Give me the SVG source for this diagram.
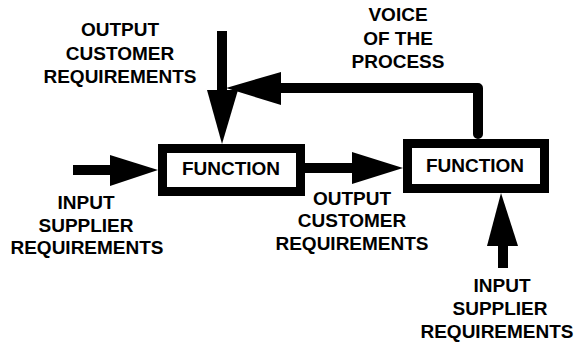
<svg xmlns="http://www.w3.org/2000/svg" width="583" height="345" viewBox="0 0 583 345">
  <style>
    .lbl { font-family: "Liberation Sans", Arial, sans-serif; font-weight: bold; font-size: 19px; fill: #000; text-anchor: middle; }
    .box { fill: #fff; stroke: #000; stroke-width: 9; }
    .shaft { fill: none; stroke: #000; stroke-width: 10; }
    .head { fill: #000; }
  </style>
  <rect width="583" height="345" fill="#fff"/>

  <g id="connectors">
    <!-- output requirements coming down into the first function -->
    <line class="shaft" x1="222" y1="31" x2="222" y2="95"/>
    <polygon class="head" points="207,90 238,90 222,144"/>
    <!-- voice of the process feedback loop -->
    <path class="shaft" d="M478,134 V88 H276" stroke-width="11" stroke-linecap="round" stroke-linejoin="round"/>
    <polygon class="head" points="281,72 281,105 226,88"/>
    <!-- input into the first function -->
    <line class="shaft" x1="73" y1="170" x2="113" y2="170"/>
    <polygon class="head" points="110,155 110,186 158,170"/>
    <!-- output of first function into second -->
    <line class="shaft" x1="305" y1="168" x2="356" y2="168"/>
    <polygon class="head" points="352,152 352,184 403,168"/>
    <!-- input rising into the second function -->
    <line class="shaft" x1="503" y1="268" x2="503" y2="240"/>
    <polygon class="head" points="487,246 518,246 501,193"/>
  </g>

  <g id="function-1">
    <rect class="box" x="162.5" y="148.5" width="138" height="43"/>
    <text class="lbl" x="231" y="175">FUNCTION</text>
  </g>

  <g id="function-2">
    <rect class="box" x="407.5" y="143.5" width="137" height="45"/>
    <text class="lbl" x="475" y="172">FUNCTION</text>
  </g>

  <g id="label-output-top">
    <text class="lbl" x="120" y="36">OUTPUT</text>
    <text class="lbl" x="120" y="60">CUSTOMER</text>
    <text class="lbl" x="120" y="83">REQUIREMENTS</text>
  </g>

  <g id="label-voice">
    <text class="lbl" x="398" y="21">VOICE</text>
    <text class="lbl" x="398" y="45">OF THE</text>
    <text class="lbl" x="398" y="68">PROCESS</text>
  </g>

  <g id="label-input-left">
    <text class="lbl" x="86" y="209">INPUT</text>
    <text class="lbl" x="86" y="232">SUPPLIER</text>
    <text class="lbl" x="87" y="254">REQUIREMENTS</text>
  </g>

  <g id="label-output-middle">
    <text class="lbl" x="352" y="205">OUTPUT</text>
    <text class="lbl" x="352" y="227">CUSTOMER</text>
    <text class="lbl" x="352" y="250">REQUIREMENTS</text>
  </g>

  <g id="label-input-right">
    <text class="lbl" x="502" y="292">INPUT</text>
    <text class="lbl" x="500" y="315">SUPPLIER</text>
    <text class="lbl" x="497" y="338">REQUIREMENTS</text>
  </g>
</svg>
